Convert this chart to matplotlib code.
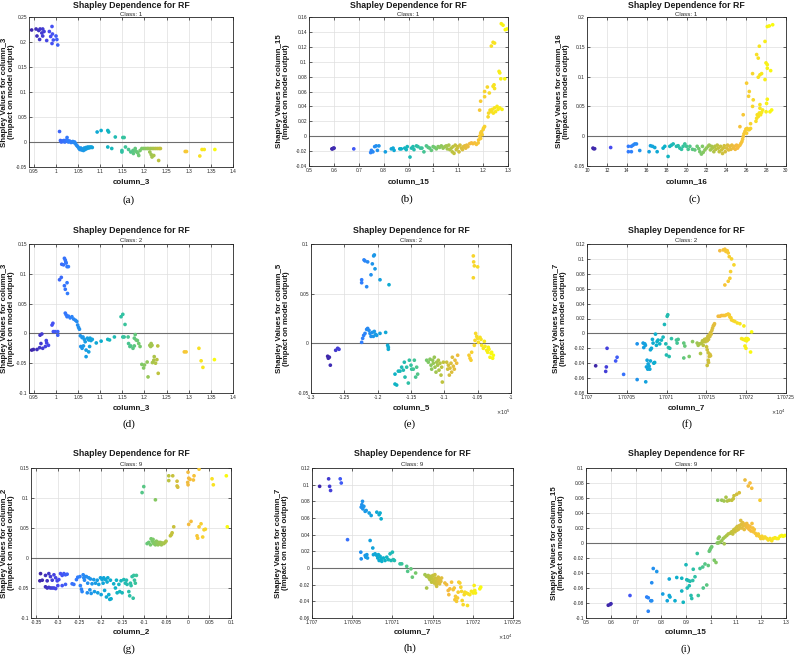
import matplotlib
matplotlib.use('Agg')
import matplotlib.pyplot as plt
from matplotlib.colors import LinearSegmentedColormap, Normalize

plt.rcParams['font.family'] = ['Liberation Sans', 'DejaVu Sans']

# ---------------- data ----------------
# (a) class 1, column_3
a_x = [0.945,0.955,0.961,0.964,0.970,0.973,0.968,0.957,0.970,0.963,0.979,0.985,0.988,0.991,0.992,0.994,1.000,1.002,0.991,1.004,
       1.008,1.010,1.012,1.014,1.016,1.018,1.020,1.022,1.024,1.025,1.026,
       1.028,1.030,1.032,1.034,1.036,1.038,1.040,1.042,1.044,1.046,1.048,1.050,1.052,1.054,1.056,1.058,1.060,1.062,1.064,1.066,
       1.068,1.070,1.072,1.074,1.076,1.078,1.080,1.082,
       1.093,1.102,1.117,1.119,1.117,1.126,1.134,1.151,1.154,1.149,1.149,1.157,
       1.164,1.169,1.174,1.175,1.179,1.183,1.187,1.190,1.194,1.198,1.202,1.206,1.209,1.213,1.217,1.221,1.225,1.229,1.233,1.236,
       1.212,1.215,1.217,1.221,1.232,1.180,1.185,
       1.292,1.295,1.325,1.330,1.335,1.359]
a_y = [0.224,0.226,0.223,0.226,0.226,0.221,0.218,0.212,0.212,0.205,0.203,0.221,0.211,0.231,0.216,0.204,0.212,0.205,0.197,0.194,
       0.021,0.003,0.000,0.002,0.001,0.003,0.000,0.002,0.004,0.009,0.003,
       0.000,0.002,0.001,-0.001,0.000,0.001,-0.001,0.000,-0.003,-0.006,-0.008,-0.010,-0.013,-0.015,-0.012,-0.016,-0.014,-0.017,-0.012,-0.015,
       -0.011,-0.013,-0.010,-0.012,-0.010,-0.011,-0.010,-0.011,
       0.020,0.023,0.023,0.020,-0.010,-0.013,0.010,0.009,0.009,-0.017,-0.020,-0.010,
       -0.015,-0.020,-0.017,-0.023,-0.013,-0.020,-0.027,-0.017,-0.013,-0.013,-0.013,-0.013,-0.013,-0.013,-0.013,-0.013,-0.013,-0.013,-0.013,-0.013,
       -0.020,-0.025,-0.030,-0.027,-0.037,-0.018,-0.022,
       -0.019,-0.019,-0.028,-0.015,-0.015,-0.015]

# (b) class 1, column_15
b_x = [0.592,0.595,0.598,0.601,0.680,
       0.748,0.751,0.757,0.764,0.770,0.775,0.781,0.807,0.831,0.838,0.842,0.865,0.871,0.885,0.891,0.895,0.906,0.912,0.918,0.922,
       0.932,0.938,0.948,0.954,0.962,0.972,0.979,0.985,0.992,0.999,1.005,1.012,1.019,1.025,1.032,1.039,1.046,1.052,1.056,1.062,
       1.066,1.072,1.076,1.079,1.083,1.088,1.092,1.096,1.099,1.103,1.107,1.113,1.117,1.121,1.126,1.130,1.134,1.139,
       1.146,1.153,1.159,1.166,1.173,1.180,
       1.182,1.186,1.190,1.193,1.196,1.200,1.202,1.206,1.190,1.186,1.190,1.206,1.206,1.217,
       1.220,1.222,1.228,1.233,1.237,1.241,1.246,1.250,1.256,1.260,1.267,1.276,
       1.240,1.244,1.246,1.225,1.264,1.267,1.271,1.287,1.233,1.240,1.246,1.273,1.280,1.289,1.296]
b_y = [-0.017,-0.017,-0.016,-0.016,-0.017,
       -0.022,-0.019,-0.021,-0.014,-0.013,-0.019,-0.013,-0.021,-0.017,-0.016,-0.019,-0.017,-0.017,-0.016,-0.018,-0.014,-0.028,-0.016,-0.014,-0.018,
       -0.013,-0.014,-0.016,-0.016,-0.021,-0.013,-0.015,-0.016,-0.019,-0.014,-0.015,-0.017,-0.014,-0.015,-0.013,-0.016,-0.014,-0.013,-0.017,-0.012,
       -0.018,-0.016,-0.021,-0.014,-0.023,-0.012,-0.018,-0.016,-0.014,-0.021,-0.012,-0.016,-0.018,-0.014,-0.013,-0.016,-0.012,-0.014,
       -0.010,-0.009,-0.010,-0.009,-0.011,-0.009,
       -0.005,0.000,0.004,0.006,0.002,0.009,0.011,0.013,-0.003,0.035,0.047,0.053,0.060,0.066,
       0.026,0.031,0.035,0.033,0.036,0.031,0.038,0.033,0.040,0.036,0.038,0.036,
       0.067,0.069,0.064,0.058,0.087,0.085,0.077,0.077,0.121,0.126,0.125,0.151,0.149,0.143,0.144]

# (c) class 1, column_16
c_x = [10.60,10.67,10.77,12.38,
       14.16,14.16,14.46,14.46,14.63,14.80,14.97,15.30,16.24,16.38,16.58,16.81,17.05,17.65,17.82,18.15,18.32,18.49,18.66,
       18.99,19.16,19.33,19.50,19.66,19.83,20.00,20.17,20.34,20.60,20.84,21.07,21.24,21.34,21.50,21.60,21.68,21.85,
       22.00,22.18,22.28,22.40,22.52,22.62,22.75,22.85,22.95,23.09,23.19,23.29,23.42,23.52,23.62,23.69,23.79,23.89,
       24.03,24.13,24.23,24.36,24.46,24.56,24.70,24.80,24.90,25.03,25.13,25.23,25.37,25.47,
       25.57,25.64,25.70,25.77,25.87,25.97,26.04,26.10,26.20,26.31,26.44,25.37,25.70,26.04,26.31,26.24,26.44,
       26.64,26.71,26.64,26.98,27.05,27.11,27.21,27.32,27.38,27.45,27.55,27.65,27.38,
       27.05,27.21,27.32,27.38,27.21,27.55,27.89,27.89,27.99,28.12,28.12,28.05,28.12,28.00,28.39,28.56,28.46,28.12,28.32,28.66]
c_y = [-0.020,-0.021,-0.021,-0.019,
       -0.017,-0.026,-0.026,-0.017,-0.015,-0.013,-0.013,-0.024,-0.026,-0.016,-0.017,-0.019,-0.026,-0.020,-0.017,-0.034,-0.017,-0.015,-0.013,
       -0.017,-0.016,-0.020,-0.022,-0.017,-0.013,-0.017,-0.022,-0.017,-0.022,-0.023,-0.017,-0.021,-0.026,-0.030,-0.017,-0.027,-0.023,
       -0.020,-0.017,-0.015,-0.023,-0.017,-0.020,-0.026,-0.017,-0.022,-0.015,-0.020,-0.026,-0.017,-0.023,-0.029,-0.020,-0.016,-0.026,
       -0.020,-0.015,-0.023,-0.017,-0.022,-0.015,-0.020,-0.017,-0.022,-0.015,-0.020,-0.017,-0.015,-0.012,
       -0.009,-0.005,-0.0005,0.004,0.008,0.012,0.005,0.013,0.011,0.011,0.013,0.016,0.036,0.089,0.075,0.067,0.021,
       0.050,0.061,0.105,0.025,0.030,0.036,0.033,0.039,0.047,0.036,0.040,0.044,0.053,
       0.137,0.131,0.151,0.103,0.099,0.105,0.095,0.159,0.123,0.120,0.114,0.055,0.062,0.041,0.041,0.044,0.110,0.184,0.185,0.187]

# (d) class 2, column_3
d_x = [0.945,0.949,0.957,0.963,0.966,0.964,0.968,0.970,0.976,0.978,0.979,0.983,0.991,0.993,0.994,0.998,1.004,1.004,
       1.008,1.012,1.013,1.017,1.019,1.021,1.022,1.023,1.025,1.019,1.021,1.025,1.026,1.028,
       1.021,1.023,1.025,1.028,1.032,1.036,1.040,1.044,1.047,1.049,1.051,1.053,1.055,1.059,1.061,1.056,1.059,1.062,1.064,1.066,
       1.068,1.068,1.071,1.074,1.074,1.076,1.077,1.079,1.082,1.091,1.102,1.117,1.121,1.132,
       1.147,1.151,1.151,1.154,1.156,
       1.163,1.164,1.167,1.169,1.174,1.177,1.177,1.179,1.181,1.184,1.187,1.190,1.194,1.198,1.200,1.206,1.208,1.212,1.214,1.215,
       1.217,1.218,1.221,1.222,1.225,1.228,1.230,1.231,
       1.290,1.294,1.323,1.328,1.332,1.358]
d_y = [-0.028,-0.027,-0.027,-0.024,-0.017,-0.003,-0.001,-0.025,-0.022,-0.012,-0.016,-0.020,0.014,0.017,0.003,0.003,0.003,-0.003,
       0.090,0.094,0.116,0.115,0.126,0.123,0.120,0.118,0.112,0.080,0.074,0.085,0.067,0.112,
       0.034,0.031,0.028,0.029,0.026,0.028,0.024,0.022,0.020,0.014,0.010,0.007,-0.004,-0.007,-0.006,-0.022,-0.025,-0.021,-0.010,-0.014,
       -0.039,-0.028,-0.008,-0.031,-0.011,-0.022,-0.008,-0.012,-0.010,-0.016,-0.013,-0.010,-0.011,-0.006,
       0.028,0.032,-0.006,-0.006,0.015,
       -0.006,-0.017,-0.022,-0.021,-0.025,-0.021,-0.008,-0.002,-0.011,-0.012,-0.017,-0.022,-0.052,-0.058,-0.053,-0.048,-0.073,-0.020,-0.022,-0.017,
       -0.020,-0.049,-0.045,-0.039,-0.050,-0.044,-0.021,-0.067,
       -0.031,-0.031,-0.025,-0.046,-0.057,-0.044]

# (e) class 2, column_5 (raw values, axis shown x10^5)
e_x = [-127500,-127400,-127250,-127100,-126300,-126000,-125800,
       -122400,-122400,-122050,-121900,-121650,-121500,-121000,-120800,-120600,-120500,-120400,-119650,-118300,
       -122400,-122250,-122100,-121900,-121650,-121500,-121300,-121150,-121000,-120800,-120650,-120500,-120300,-120150,-119650,-118800,-118500,-118400,-118400,
       -117400,-117400,-117150,-116900,-116650,-116400,-116150,-116000,-115900,-115650,-115400,-115250,-115000,-114900,-114650,-114500,-114300,-114150,-114000,
       -112650,-112400,-112150,-112000,-111900,-111750,-111650,-111500,-111400,-111250,-111150,-111000,-110900,-110800,-110650,-110500,-110400,-110300,-110150,
       -109650,-109500,-109400,-109250,-109150,-109000,-108900,-108800,-108650,-108500,-108400,-108150,-108000,
       -106300,-106150,-106000,-105900,-105650,-105600,-105500,-105650,-105000,
       -105500,-105400,-105300,-105150,-105000,-104900,-104650,-104500,-104400,-104150,-104000,-103900,-103650,-103500,-103400,-103300,-103150,-103000,-102900,-102750,-102650]
e_y = [-0.013,-0.015,-0.014,-0.022,-0.007,-0.005,-0.006,
       0.064,0.061,0.084,0.083,0.057,0.082,0.069,0.080,0.088,0.089,0.075,0.064,0.059,
       0.001,0.005,0.008,0.010,0.014,0.015,0.013,0.010,0.007,0.011,0.007,0.012,0.009,0.008,0.010,0.011,-0.002,-0.004,-0.006,
       -0.031,-0.041,-0.042,-0.028,-0.028,-0.024,-0.027,-0.019,-0.034,-0.024,-0.040,-0.017,-0.022,-0.026,-0.026,-0.017,-0.034,-0.024,-0.031,
       -0.017,-0.019,-0.016,-0.022,-0.026,-0.017,-0.020,-0.014,-0.024,-0.029,-0.019,-0.022,-0.017,-0.027,-0.020,-0.032,-0.024,-0.039,-0.019,
       -0.019,-0.026,-0.022,-0.032,-0.025,-0.020,-0.029,-0.014,-0.023,-0.026,-0.017,-0.020,-0.012,
       -0.012,-0.015,-0.017,-0.009,0.088,0.082,0.078,0.066,0.077,
       -0.002,0.003,0.010,0.007,0.005,0.001,0.006,0.004,-0.002,-0.005,0.002,-0.003,-0.007,-0.009,-0.004,-0.006,-0.014,-0.010,-0.009,-0.015,-0.012]

# (f) class 2, column_7 (raw values, axis shown x10^4)
f_x = [17070.109,17070.235,17070.243,17070.252,17070.360,17070.378,17070.460,
       17070.630,17070.630,17070.705,17070.713,17070.726,17070.734,17070.738,17070.747,17070.755,17070.763,17070.768,17070.780,
       17070.789,17070.797,17070.797,17070.810,17070.822,17070.830,17070.839,17070.850,17070.860,17070.872,17070.880,17070.893,
       17070.914,17070.935,17070.956,17070.973,17070.990,17070.998,17071.007,17071.015,17071.023,17071.032,17071.040,17071.061,
       17071.124,17071.132,17071.145,17071.216,17071.216,17071.229,17071.284,17071.326,
       17071.384,17071.397,17071.418,17071.426,17071.439,17071.451,17071.460,17071.468,17071.477,17071.485,17071.493,17071.502,
       17071.510,17071.518,17071.527,17071.535,17071.544,17071.552,17071.560,17071.569,17071.577,17071.586,17071.594,17071.602,
       17071.502,17071.510,17071.523,17071.523,17071.535,17071.544,17071.510,17071.527,17071.552,
       17071.648,17071.669,17071.690,17071.711,17071.732,17071.753,17071.774,17071.787,17071.795,17071.808,17071.816,17071.837,
       17071.858,17071.888,17071.921,17071.971,17071.669,17071.711,17071.732,17071.745,17071.762,17071.774,17071.787,17071.816,
       17071.846,17071.804,17071.795,17071.774,17071.732,
       17071.942,17071.963,17071.984,17071.997,17072.005,17072.013,17071.984,17071.997,17072.068,17072.055,17072.026]
f_y = [-0.0435,-0.051,-0.045,-0.020,-0.037,-0.032,-0.055,
       -0.062,-0.014,-0.013,-0.019,-0.014,-0.016,-0.065,-0.045,-0.036,-0.048,-0.041,-0.044,
       -0.048,-0.037,-0.022,-0.020,-0.008,-0.013,-0.040,-0.039,-0.001,-0.016,-0.011,-0.009,
       -0.014,-0.009,-0.005,0.012,-0.014,-0.029,0.023,0.025,-0.019,-0.031,-0.020,-0.007,
       -0.009,-0.013,-0.008,-0.013,-0.033,-0.017,-0.031,-0.011,
       -0.013,-0.016,-0.014,-0.027,-0.013,-0.010,-0.016,-0.011,-0.008,-0.011,-0.009,-0.007,
       -0.010,-0.004,-0.008,-0.002,-0.004,0.001,-0.001,0.004,0.007,0.010,0.011,0.013,
       -0.018,-0.022,-0.026,-0.036,-0.031,-0.028,-0.043,-0.039,-0.030,
       0.023,0.023,0.024,0.024,0.024,0.025,0.026,0.025,0.022,0.021,0.018,0.017,
       0.016,0.014,0.013,0.010,0.111,0.112,0.113,0.110,0.111,0.108,0.103,0.100,
       0.092,0.083,0.074,0.070,0.065,
       -0.007,-0.008,-0.009,-0.007,-0.010,-0.007,-0.017,-0.020,0.002,-0.025,-0.008]

# (g) class 9, column_2
g_x = [-0.340,-0.3415,-0.3285,-0.3246,-0.3208,-0.317,-0.313,-0.309,-0.305,-0.3015,-0.2977,-0.2938,-0.290,-0.286,-0.2823,-0.2785,
       -0.3285,-0.3246,-0.3208,-0.317,-0.313,-0.309,-0.305,-0.300,-0.290,-0.2823,-0.336,
       -0.267,-0.263,-0.257,-0.254,-0.249,-0.248,-0.2455,-0.244,-0.2415,-0.240,
       -0.2385,-0.236,-0.234,-0.232,-0.231,-0.2285,-0.226,-0.2246,-0.223,-0.221,
       -0.217,-0.2154,-0.213,-0.209,-0.2077,-0.2054,-0.2015,-0.200,-0.1977,-0.1954,
       -0.194,-0.192,-0.190,-0.1877,-0.1862,-0.1846,-0.1823,-0.180,-0.1785,-0.177,
       -0.171,-0.167,-0.1646,-0.163,-0.159,-0.157,-0.154,-0.1515,-0.1477,-0.144,-0.1415,-0.140,-0.136,-0.134,-0.1323,-0.1308,
       -0.1285,-0.126,-0.1246,-0.123,-0.121,-0.1185,
       -0.1015,-0.1054,-0.0746,-0.0938,-0.090,-0.086,-0.0846,-0.082,-0.080,-0.0785,-0.077,-0.0746,-0.0723,-0.0708,-0.0685,
       -0.067,-0.0646,-0.063,-0.0608,-0.0585,-0.0554,-0.0523,-0.050,-0.040,-0.0377,-0.036,-0.0323,
       -0.0438,-0.0438,-0.0346,-0.0246,-0.0246,-0.023,
       0.0008,0.0023,0.0008,0.0,0.0054,0.0131,0.0146,0.0262,0.0562,0.0592,0.0892,
       0.0023,0.0077,0.0215,0.023,0.0262,0.0308,0.0346,0.0377,0.0408,
       0.0915]
g_y = [-0.026,-0.038,-0.029,-0.038,-0.026,-0.031,-0.037,-0.028,-0.033,-0.038,-0.036,-0.026,-0.029,-0.026,-0.028,-0.027,
       -0.048,-0.050,-0.049,-0.050,-0.050,-0.050,-0.051,-0.046,-0.046,-0.044,-0.037,
       -0.043,-0.044,-0.036,-0.032,-0.031,-0.046,-0.052,-0.056,-0.028,-0.033,
       -0.037,-0.031,-0.031,-0.058,-0.042,-0.033,-0.053,-0.035,-0.059,-0.043,
       -0.036,-0.056,-0.042,-0.037,-0.058,-0.044,-0.033,-0.061,-0.036,-0.042,
       -0.033,-0.054,-0.036,-0.065,-0.040,-0.033,-0.061,-0.069,-0.037,-0.068,
       -0.043,-0.050,-0.037,-0.058,-0.044,-0.056,-0.038,-0.058,-0.036,-0.042,-0.037,-0.044,-0.056,-0.063,-0.042,-0.046,
       -0.031,-0.067,-0.029,-0.037,-0.042,-0.029,
       0.119,0.109,0.097,0.024,0.026,0.022,0.032,0.028,0.031,0.024,0.026,0.022,0.028,0.025,0.022,
       0.026,0.024,0.026,0.022,0.025,0.024,0.026,0.028,0.037,0.039,0.042,0.052,
       0.137,0.129,0.137,0.128,0.120,0.118,
       0.143,0.133,0.122,0.126,0.131,0.130,0.137,0.148,0.132,0.122,0.137,
       0.056,0.061,0.037,0.033,0.052,0.057,0.035,0.047,0.048,
       0.052]

# (h) class 9, column_7 (raw values, axis shown x10^4)
h_x = [17070.095,17070.207,17070.219,17070.231,17070.351,17070.364,17070.442,
       17070.612,17070.620,17070.628,17070.632,17070.645,17070.661,17070.674,17070.711,17070.736,17070.806,17070.835,17070.847,17070.860,
       17070.607,17070.612,17070.661,17070.669,17070.682,17070.690,17070.723,17070.756,17070.764,17070.785,17070.806,17070.818,17070.826,
       17070.835,17070.847,17070.860,17070.868,17070.888,17070.909,17070.930,17070.950,17070.971,17070.983,17071.000,17071.012,17071.025,
       17071.095,17071.116,17071.178,17071.190,17071.231,17071.248,17071.289,17071.426,
       17071.405,17071.426,17071.446,17071.455,17071.467,17071.479,17071.488,17071.496,17071.504,17071.512,17071.521,17071.529,
       17071.537,17071.545,17071.554,17071.562,17071.570,17071.579,17071.587,17071.595,17071.603,17071.612,17071.529,17071.550,
       17071.653,17071.674,17071.694,17071.702,17071.715,17071.736,17071.756,17071.769,17071.777,17071.785,17071.798,17071.810,
       17071.818,17071.826,17071.839,17071.851,17071.860,17071.868,17071.880,17071.893,17071.901,17071.921,17071.934,17071.942,
       17071.963,17071.983,17072.004,17072.017,17072.025,17072.033,17072.087,17072.099]
h_y = [0.098,0.107,0.098,0.093,0.107,0.102,0.034,
       0.073,0.076,0.080,0.071,0.074,0.068,0.069,0.066,0.063,0.067,0.064,0.066,0.059,
       0.019,0.011,0.015,0.013,0.016,0.012,0.033,0.024,0.016,0.017,0.015,0.012,0.016,
       0.009,0.014,0.011,0.008,0.012,0.009,0.013,0.010,0.017,0.009,0.019,0.010,0.009,
       0.005,0.005,0.002,-0.004,-0.001,-0.011,-0.006,-0.024,
       -0.008,-0.010,-0.009,-0.012,-0.014,-0.010,-0.017,-0.013,-0.009,-0.015,-0.018,-0.012,
       -0.016,-0.020,-0.013,-0.017,-0.011,-0.015,-0.019,-0.013,-0.016,-0.012,-0.008,-0.022,
       -0.018,-0.020,-0.027,-0.032,-0.025,-0.017,-0.026,-0.024,-0.038,-0.034,-0.040,-0.036,
       -0.029,-0.017,-0.018,-0.023,-0.028,-0.039,-0.044,-0.032,-0.029,-0.030,-0.045,-0.031,
       -0.032,-0.028,-0.030,-0.021,-0.027,-0.030,-0.025,-0.023]

# (i) class 9, column_15
i_x = [0.589,0.596,0.600,0.676,
       0.743,0.749,0.749,0.759,0.763,0.763,0.769,0.783,0.807,0.825,0.833,0.833,0.836,0.856,0.863,
       0.883,0.883,0.889,0.900,0.903,0.905,0.909,0.913,0.916,0.920,0.923,0.927,0.929,0.936,0.945,
       0.949,0.956,0.967,0.969,0.976,0.983,0.989,0.993,0.996,1.003,0.999,1.013,1.020,
       1.025,1.029,1.033,1.029,1.036,1.043,1.049,1.056,1.053,1.063,1.069,1.076,1.083,1.087,1.089,1.092,1.096,1.100,1.103,1.105,
       1.109,1.113,1.116,1.119,1.121,1.124,1.127,1.129,1.133,1.136,1.140,1.143,1.147,1.149,1.153,1.156,1.160,1.164,1.167,1.169,
       1.173,1.177,1.183,1.189,1.193,1.199,1.204,1.209,1.216,1.223,1.229,1.236,1.243,1.249,1.256,1.263,1.269,1.276,1.283,1.289,1.296,
       1.027,1.043,1.052,1.060,1.065,1.073,1.083,1.089,1.092,1.103,1.113,1.136,1.149,1.156,1.163,1.196]
i_y = [-0.083,-0.082,-0.081,-0.070,
       -0.072,-0.091,-0.073,-0.077,-0.077,-0.053,-0.034,-0.038,-0.068,-0.077,-0.070,-0.048,-0.072,-0.077,-0.046,
       -0.047,-0.064,-0.079,-0.029,-0.049,-0.060,-0.050,-0.057,-0.051,-0.070,-0.074,-0.050,-0.035,-0.045,-0.014,
       -0.070,-0.034,-0.032,-0.060,-0.028,-0.056,-0.030,-0.011,-0.009,-0.005,-0.007,-0.023,-0.026,
       0.000,0.006,0.008,0.000,0.001,0.003,0.006,0.008,-0.001,0.010,0.012,0.013,0.015,0.012,0.016,0.018,0.015,0.020,0.017,0.022,
       0.018,0.023,0.020,0.030,0.025,0.020,0.027,0.023,0.018,0.025,0.022,0.026,0.020,0.023,0.018,0.022,0.016,0.026,0.020,0.015,
       0.018,0.013,0.010,0.012,0.009,0.006,0.009,0.006,0.008,0.006,0.004,0.006,0.003,0.006,0.007,0.006,0.006,0.009,0.010,0.009,0.010,
       0.057,0.057,0.056,0.061,0.056,0.057,0.057,0.059,0.063,0.065,0.067,0.084,0.076,0.080,0.073,0.057]

# tick values
x_ticks_col3 = [0.95, 1.0, 1.05, 1.1, 1.15, 1.2, 1.25, 1.3, 1.35, 1.4]
x_ticks_col15 = [0.5, 0.6, 0.7, 0.8, 0.9, 1.0, 1.1, 1.2, 1.3]
x_ticks_col16 = [10, 12, 14, 16, 18, 20, 22, 24, 26, 28, 30]
x_ticks_col5 = [-130000, -125000, -120000, -115000, -110000, -105000, -100000]
x_ticks_col7 = [17070.0, 17070.5, 17071.0, 17071.5, 17072.0, 17072.5]
x_ticks_col2 = [-0.35, -0.3, -0.25, -0.2, -0.15, -0.1, -0.05, 0.0, 0.05, 0.1]
a_yticks = [-0.05, 0, 0.05, 0.1, 0.15, 0.2, 0.25]
b_yticks = [-0.04, -0.02, 0, 0.02, 0.04, 0.06, 0.08, 0.1, 0.12, 0.14, 0.16]
c_yticks = [-0.05, 0, 0.05, 0.1, 0.15, 0.2]
d_yticks = [-0.1, -0.05, 0, 0.05, 0.1, 0.15]
e_yticks = [-0.05, 0, 0.05, 0.1]
f_yticks = [-0.08, -0.06, -0.04, -0.02, 0, 0.02, 0.04, 0.06, 0.08, 0.1, 0.12]
g_yticks = [-0.1, -0.05, 0, 0.05, 0.1, 0.15]
h_yticks = [-0.06, -0.04, -0.02, 0, 0.02, 0.04, 0.06, 0.08, 0.1, 0.12]
i_yticks = [-0.1, -0.08, -0.06, -0.04, -0.02, 0, 0.02, 0.04, 0.06, 0.08, 0.1]

# ---------------- style ----------------
parula = LinearSegmentedColormap.from_list('parula', [
    (0.2422, 0.1504, 0.6603), (0.2769, 0.2954, 0.9463), (0.1938, 0.4910, 0.9960),
    (0.0852, 0.6199, 0.8886), (0.0429, 0.6963, 0.7880), (0.2008, 0.7627, 0.6307),
    (0.4789, 0.7895, 0.4140), (0.7616, 0.7622, 0.2371), (0.9645, 0.7318, 0.2468),
    (0.9697, 0.8553, 0.1626), (0.9763, 0.9831, 0.0538)])

W, H = 796, 656
fig = plt.figure(figsize=(W / 100, H / 100), dpi=100)


def fbox(l, r, t, b):
    return [l / W, 1 - b / H, (r - l) / W, (b - t) / H]


panels = [
    dict(x=a_x, y=a_y, col='column_3', cls='1', box=(29, 233, 17, 167), xlim=(0.939, 1.4), xt=x_ticks_col3, ylim=(-0.05, 0.25), yt=a_yticks,
         ty=5, cy=14, ylx=8, xly=182, lab='(a)', labx=129, laby=200, scale=1),
    dict(x=b_x, y=b_y, col='column_15', cls='1', box=(309, 508, 17, 166), xlim=(0.5, 1.3), xt=x_ticks_col15, ylim=(-0.04, 0.16), yt=b_yticks,
         ty=5, cy=14, ylx=283, xly=182, lab='(b)', labx=407, laby=199, scale=1),
    dict(x=c_x, y=c_y, col='column_16', cls='1', box=(587, 786, 17, 166), xlim=(10, 30), xt=x_ticks_col16, ylim=(-0.05, 0.2), yt=c_yticks,
         ty=5, cy=14, ylx=563, xly=182, lab='(c)', labx=695, laby=199, scale=1),
    dict(x=d_x, y=d_y, col='column_3', cls='2', box=(29, 233, 244, 393), xlim=(0.939, 1.4), xt=x_ticks_col3, ylim=(-0.1, 0.15), yt=d_yticks,
         ty=231, cy=240, ylx=8, xly=408, lab='(d)', labx=129, laby=424, scale=1),
    dict(x=e_x, y=e_y, col='column_5', cls='2', box=(311, 511, 244, 393), xlim=(-130000, -100000), xt=x_ticks_col5, ylim=(-0.05, 0.1), yt=e_yticks,
         ty=231, cy=240, ylx=283, xly=408, lab='(e)', labx=410, laby=424, scale=1e5),
    dict(x=f_x, y=f_y, col='column_7', cls='2', box=(587, 786, 244, 393), xlim=(17070.0, 17072.5), xt=x_ticks_col7, ylim=(-0.08, 0.12), yt=f_yticks,
         ty=231, cy=240, ylx=560, xly=408, lab='(f)', labx=687, laby=424, scale=1e4),
    dict(x=g_x, y=g_y, col='column_2', cls='9', box=(31, 231, 468, 618), xlim=(-0.362, 0.1), xt=x_ticks_col2, ylim=(-0.1, 0.15), yt=g_yticks,
         ty=454, cy=464, ylx=8, xly=632, lab='(g)', labx=129, laby=649, scale=1),
    dict(x=h_x, y=h_y, col='column_7', cls='9', box=(312, 513, 468, 618), xlim=(17070.0, 17072.5), xt=x_ticks_col7, ylim=(-0.06, 0.12), yt=h_yticks,
         ty=454, cy=464, ylx=282, xly=632, lab='(h)', labx=410, laby=648, scale=1e4),
    dict(x=i_x, y=i_y, col='column_15', cls='9', box=(586, 786, 468, 618), xlim=(0.5, 1.3), xt=x_ticks_col15, ylim=(-0.1, 0.1), yt=i_yticks,
         ty=454, cy=464, ylx=558, xly=632, lab='(i)', labx=686, laby=649, scale=1),
]

tick_fs = 3.5
for p in panels:
    l, r, t, b = p['box']
    ax = fig.add_axes(fbox(l, r, t, b))
    norm = Normalize(vmin=min(p['x']), vmax=max(p['x']))
    ax.scatter(p['x'], p['y'], c=p['x'], cmap=parula, norm=norm, s=7, linewidths=0, zorder=3)
    ax.axhline(0, color='#6e6e6e', lw=0.8, zorder=2)
    ax.set_xlim(*p['xlim'])
    ax.set_ylim(*p['ylim'])
    ax.set_xticks(p['xt'])
    ax.set_xticklabels([f'{v / p["scale"]:g}' for v in p['xt']])
    ax.set_yticks(p['yt'])
    ax.set_yticklabels([f'{v:g}' for v in p['yt']])
    ax.grid(True, color='#dedede', lw=0.5, zorder=0)
    ax.set_axisbelow(True)
    ax.tick_params(direction='in', length=2, width=0.5, labelsize=tick_fs, pad=1.5,
                   colors='#262626', top=True, right=True)
    for s in ax.spines.values():
        s.set_linewidth(0.6)
        s.set_color('#262626')
    cx = (l + r) / 2
    fig.text(cx / W, 1 - p['ty'] / H, 'Shapley Dependence for RF', ha='center', va='center',
             fontsize=6.3, fontweight='bold', color='#1a1a1a')
    fig.text(cx / W, 1 - p['cy'] / H, 'Class: ' + p['cls'], ha='center', va='center',
             fontsize=4.4, color='#262626')
    fig.text(p['ylx'] / W, 1 - ((t + b) / 2) / H,
             'Shapley Values for ' + p['col'] + '\n(Impact on model output)',
             rotation=90, ha='center', va='center', fontsize=5.7, fontweight='bold',
             linespacing=1.05, color='#1a1a1a')
    fig.text(cx / W, 1 - p['xly'] / H, p['col'], ha='center', va='center',
             fontsize=5.8, fontweight='bold', color='#1a1a1a')
    if p['scale'] != 1:
        exp = {1e5: 5, 1e4: 4}[p['scale']]
        ax.text(1.0, -0.1, r'$\times10^{%d}$' % exp, transform=ax.transAxes,
                ha='right', va='top', fontsize=3.6, color='#262626')
    fig.text(p['labx'] / W, 1 - p['laby'] / H, p['lab'], ha='center', va='center',
             fontsize=8, family=['Liberation Serif', 'DejaVu Serif'])

fig.savefig('out.png', dpi=100)
